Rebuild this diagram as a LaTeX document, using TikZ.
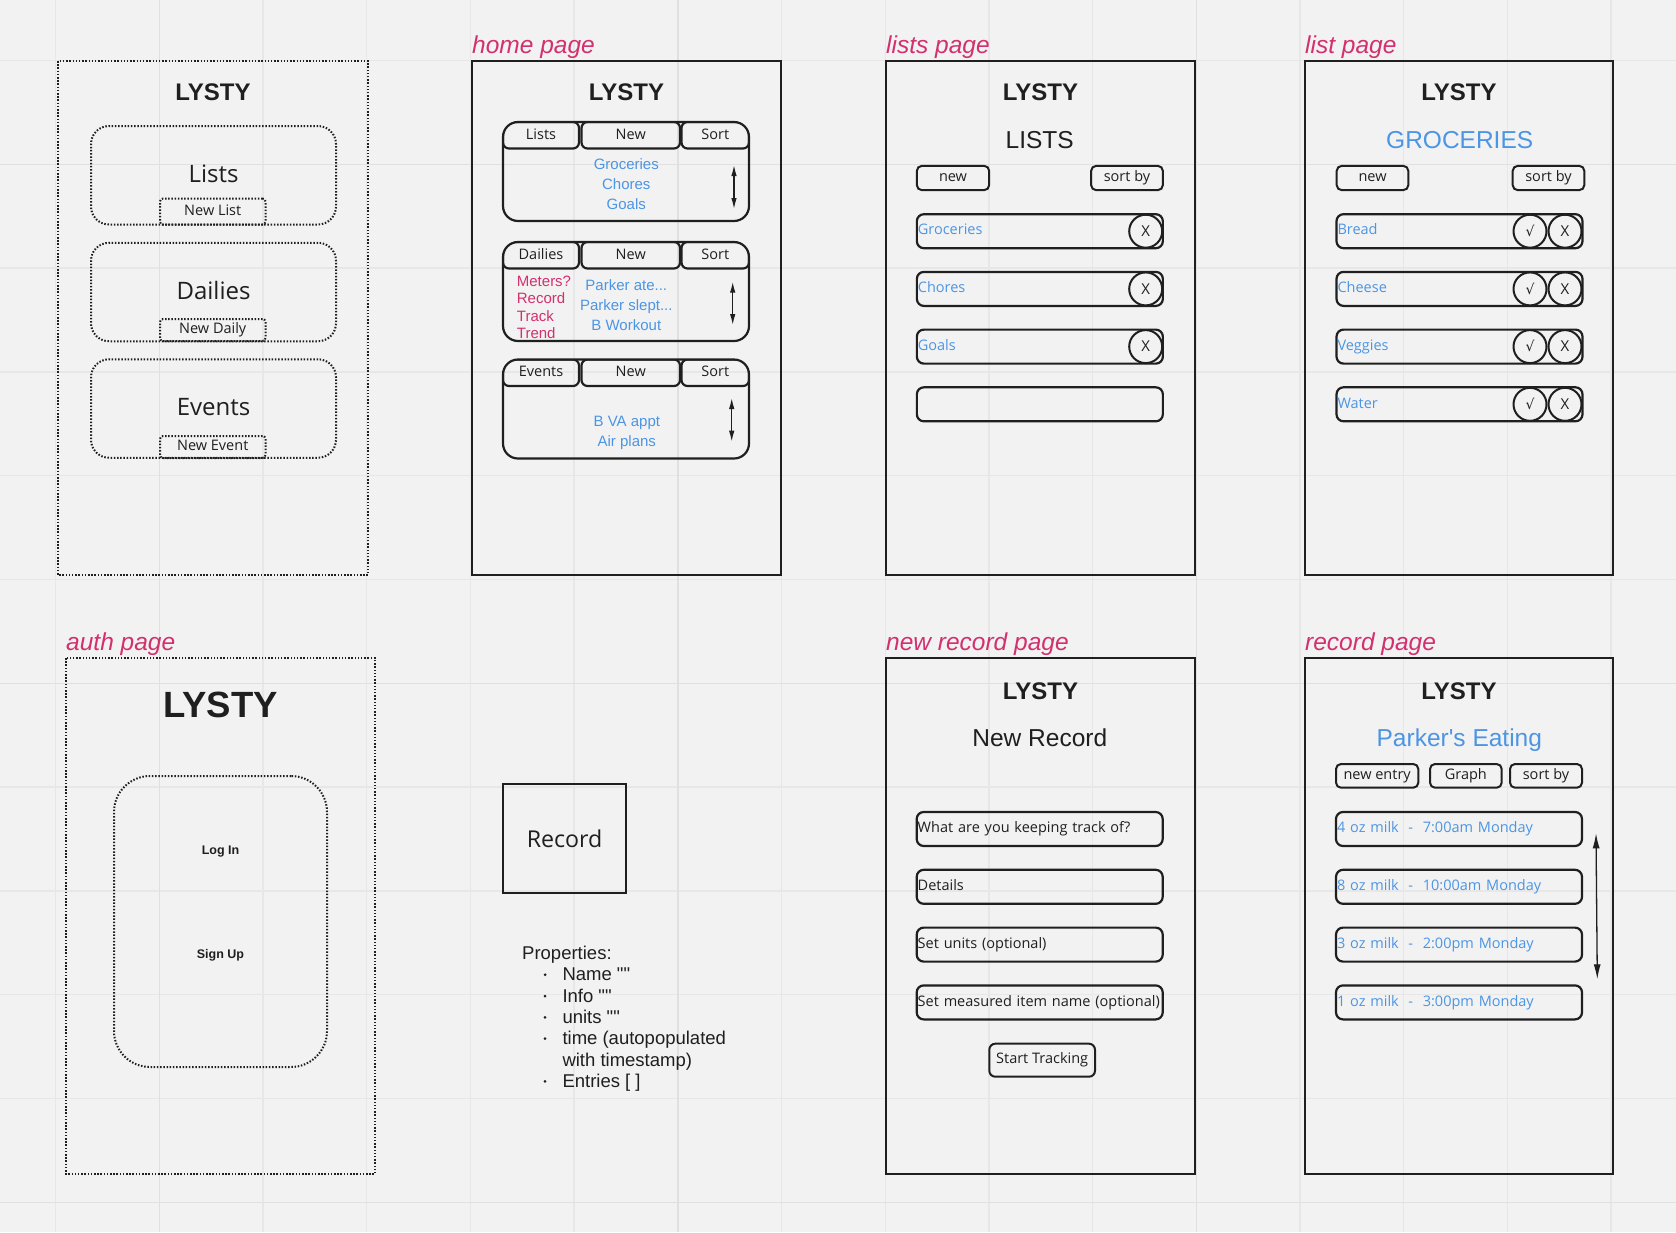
\documentclass[tikz,border=0pt]{standalone}
\usepackage{fontspec}
\setmainfont{Liberation Sans}[Ligatures=TeXOff]
\newfontfamily\opensans{Open Sans}
\newfontfamily\dejavu{DejaVu Sans}
\usetikzlibrary{arrows.meta}
\newcommand\fsz[1]{\fontsize{#1}{#1}\selectfont}
\definecolor{bg}{HTML}{F2F2F2}
\definecolor{gridc}{HTML}{E7E7E7}
\definecolor{gridd}{HTML}{E0E0E0}
\definecolor{ink}{HTML}{1F1F1F}
\definecolor{pinkc}{HTML}{D2306E}
\definecolor{bluec}{HTML}{4C95E3}

\begin{document}
\begin{tikzpicture}[x=1pt,y=-1pt,
  page/.style={draw=ink,line width=2pt},
  dot page/.style={draw=ink,line width=2pt,dash pattern=on 1.5pt off 1.7pt},
  page label/.style={anchor=base west,inner sep=0,text=pinkc,font=\itshape\fsz{24.5}},
  logo/.style={anchor=base,inner sep=0,text=ink,font=\bfseries\fsz{24}},
  heading/.style={anchor=base,inner sep=0,text=ink,font=\fsz{24.5}},
  line text/.style={anchor=base,inner sep=0,font=\fsz{15}},
  button/.style={draw=ink,line width=2pt,rounded corners=5pt,inner sep=0,text=ink,
    font=\opensans\fsz{14.5},text height=10.5pt,text depth=3pt},
  dot button/.style={button,dot page,rounded corners=3pt},
  dot card/.style={dot page,rounded corners=18pt,inner sep=0},
  card/.style={draw=ink,line width=2.2pt,rounded corners=15pt},
  tab/.style={button,line width=2.2pt,rounded corners=6pt,minimum height=26.5pt},
  entry/.style={button,line width=2.2pt,rounded corners=7pt,minimum height=34pt,
    text width=244pt,inner xsep=1pt,align=left},
  circ btn/.style={circle,draw=ink,line width=2pt,minimum size=33pt,inner sep=0,
    text=ink,font=\opensans\fsz{15},text height=10.7pt,text depth=0pt},
  scroll/.style={ink,line width=1.3pt,{Latex[length=11pt,width=5.5pt]}-{Latex[length=11pt,width=5.5pt]}},
]
  \fill[bg,use as bounding box] (0,0) rectangle (1676,1232);

  % board grid
  \foreach \k in {0,...,15}
    \draw[gridc,line width=1.3pt] ({55.6+103.7*\k},0) -- ({55.6+103.7*\k},1232);
  \foreach \k in {0,...,11}
    \draw[gridc,line width=1.3pt] (0,{60.5+103.8*\k}) -- (1676,{60.5+103.8*\k});
  \foreach \k in {1,6,11} {
    \draw[gridd,line width=1.5pt] ({55.6+103.7*\k},0) -- ({55.6+103.7*\k},1232);
    \draw[gridd,line width=1.5pt] (0,{60.5+103.8*\k}) -- (1676,{60.5+103.8*\k});
  }

  % hub page
  \draw[dot page] (58,61) rectangle (368,575);
  \node[logo] (hub logo) at (213,100.7) {LYSTY};
  \foreach \name/\new/\cy/\base/\by/\bh in {Lists/New List/175.25/182/211.5/26,
      Dailies/New Daily/292/299/330/22,Events/New Event/408.5/415/447/22} {
    \node[dot card,minimum width=245pt,minimum height=98.5pt] (hub \name) at (213.5,\cy) {};
    \node[anchor=base,inner sep=0,text=ink,font=\opensans\fsz{24}] (hub \name\space title) at (213.5,\base) {\name};
    \node[dot button,minimum width=105.5pt,minimum height=\bh pt] (hub new \name) at (212.75,\by) {\new};
  }

  % home page
  \draw[page] (472,61) rectangle (781,575);
  \node[page label] (home label) at (472,53) {home page};
  \node[logo] (home logo) at (626.5,100.7) {LYSTY};
  \foreach \top/\first in {122/Lists,242/Dailies,359.5/Events} {
    \begin{scope}
      \clip[rounded corners=15pt] (503,\top) rectangle (749,{\top+99});
      \node[tab,minimum width=76pt] (tab \first) at (541,{\top+13.25}) {\first};
      \node[tab,minimum width=98.5pt] (tab new \first) at (630.75,{\top+13.25}) {New};
      \node[tab,minimum width=67.5pt] (tab sort \first) at (715.25,{\top+13.25}) {Sort};
    \end{scope}
    \draw[card] (503,\top) rectangle (749,{\top+99});
  }
  \foreach \item [count=\i] in {Groceries,Chores,Goals}
    \node[line text,text=bluec] (home list \i) at (626.3,{149+20.3*\i}) {\item};
  \foreach \item [count=\i] in {Meters?,Record,Track,Trend}
    \node[line text,anchor=base west,text=pinkc] (home mode \i) at (516.7,{268.5+17.5*\i}) {\item};
  \node[line text,text=bluec] (home daily 1) at (626.3,290) {Parker ate...};
  \node[line text,text=bluec] (home daily 2) at (626.3,310.3) {Parker slept...};
  \node[line text,text=bluec] (home daily 3) at (626.3,330.6) {B Workout};
  \foreach \item [count=\i] in {B VA appt,Air plans}
    \node[line text,text=bluec] (home event \i) at (626.8,{406.7+20*\i}) {\item};
  \coordinate (lists up) at (734,165);
  \coordinate (lists down) at (734,209);
  \coordinate (dailies up) at (732.7,281.7);
  \coordinate (dailies down) at (732.7,325);
  \coordinate (events up) at (731.7,398);
  \coordinate (events down) at (731.7,441.7);
  \draw[scroll] (lists up) -- (lists down);
  \draw[scroll] (dailies up) -- (dailies down);
  \draw[scroll] (events up) -- (events down);

  % lists page
  \draw[page] (886,61) rectangle (1195,575);
  \node[page label] (lists label) at (886,53) {lists page};
  \node[logo] (lists logo) at (1040.5,100.7) {LYSTY};
  \node[heading] (lists title) at (1039.7,148.3) {LISTS};
  \node[button,minimum width=72.3pt,minimum height=24.3pt] (lists new) at (953,178) {new};
  \node[button,minimum width=71.7pt,minimum height=24.3pt] (lists sort) at (1127,178) {sort by};
  \foreach \item [count=\i] in {Groceries,Chores,Goals} {
    \node[entry,text=bluec] (lists row \i) at (1039.85,{173.5+57.7*\i}) {\item};
    \node[circ btn] (lists del \i) at (1145.7,{173.5+57.7*\i}) {X};
  }
  \node[entry] (lists row 4) at (1039.85,404.3) {};

  % list page
  \draw[page] (1305,61) rectangle (1613,575);
  \node[page label] (list label) at (1305,53) {list page};
  \node[logo] (list logo) at (1459,100.7) {LYSTY};
  \node[heading,text=bluec] (list title) at (1459.7,148.3) {GROCERIES};
  \node[button,minimum width=71.6pt,minimum height=24.3pt] (list new) at (1372.5,178) {new};
  \node[button,minimum width=71.6pt,minimum height=24.3pt] (list sort) at (1548.5,178) {sort by};
  \foreach \item [count=\i] in {Bread,Cheese,Veggies,Water} {
    \node[entry,text=bluec] (item row \i) at (1459.5,{173.5+57.7*\i}) {\item};
    \node[circ btn,font=\dejavu\fsz{14}] (item done \i) at (1530,{173.5+57.7*\i}) {√};
    \node[circ btn] (item del \i) at (1565,{173.5+57.7*\i}) {X};
  }

  % auth page
  \draw[dot page] (66,658) rectangle (375,1174);
  \node[page label] (auth label) at (66,650) {auth page};
  \node[logo,font=\bfseries\fsz{36.5}] (auth logo) at (220.8,717.5) {LYSTY};
  \node[dot card,rounded corners=36pt,minimum width=213pt,minimum height=291pt] (auth card) at (220.5,921.5) {};
  \node[anchor=base,inner sep=0,text=ink,font=\bfseries\fsz{12.5}] (log in) at (220.5,854.8) {Log In};
  \node[anchor=base,inner sep=0,text=ink,font=\bfseries\fsz{12.5}] (sign up) at (220.5,958.7) {Sign Up};

  % record model
  \node[draw=ink,line width=2pt,minimum width=122.7pt,minimum height=109.3pt,inner sep=0,
    text=ink,font=\opensans\fsz{23.2}] (record box) at (564.65,838.65) {Record};
  \node[anchor=base west,inner sep=0,text=ink,font=\fsz{18.5}] (props) at (522,959.4) {Properties:};
  \foreach \item/\bul [count=\i] in {Name ""/1,Info ""/1,units ""/1,time (autopopulated/1,
      with timestamp)/0,Entries [ ]/1} {
    \node[anchor=base west,inner sep=0,text=ink,font=\fsz{18.5}] (prop \i) at (562.3,{959.4+21.33*\i}) {\item};
    \ifnum\bul=1 \fill[ink] (545,{953.4+21.33*\i}) circle[radius=1.5pt]; \fi
  }

  % new record page
  \draw[page] (886,658) rectangle (1195,1174);
  \node[page label] (new record label) at (886,650) {new record page};
  \node[logo] (new record logo) at (1040.5,699) {LYSTY};
  \node[heading] (new record title) at (1039.8,746) {New Record};
  \foreach \item [count=\i] in {What are you keeping track of?,Details,Set units (optional),
      Set measured item name (optional)}
    \node[entry] (field \i) at (1039.7,{771.2+57.8*\i}) {\item};
  \node[button,rounded corners=6pt,minimum width=105.7pt,minimum height=33pt] (start btn) at (1042.15,1060.2) {Start Tracking};

  % record page
  \draw[page] (1305,658) rectangle (1613,1174);
  \node[page label] (record label) at (1305,650) {record page};
  \node[logo] (record logo) at (1459,699) {LYSTY};
  \node[heading,text=bluec] (record title) at (1459.3,746) {Parker's Eating};
  \node[button,minimum width=82.3pt,minimum height=23.7pt] (entry new) at (1377.15,775.85) {new entry};
  \node[button,minimum width=71.7pt,minimum height=23.7pt] (entry graph) at (1465.85,775.85) {Graph};
  \node[button,minimum width=72pt,minimum height=23.7pt] (entry sort) at (1546,775.85) {sort by};
  \foreach \item [count=\i] in {{4 oz milk\ \ -\ \ 7:00am Monday},{8 oz milk\ \ -\ \ 10:00am Monday},
      {3 oz milk\ \ -\ \ 2:00pm Monday},{1 oz milk\ \ -\ \ 3:00pm Monday}}
    \node[entry,text=bluec] (entry row \i) at (1459,{771.2+57.8*\i}) {\item};
  \coordinate (entries up) at (1596,833.3);
  \coordinate (entries down) at (1597.3,979.3);
  \draw[scroll,{Latex[length=15pt,width=7pt]}-{Latex[length=15pt,width=7pt]}] (entries up) -- (entries down);
\end{tikzpicture}
\end{document}
